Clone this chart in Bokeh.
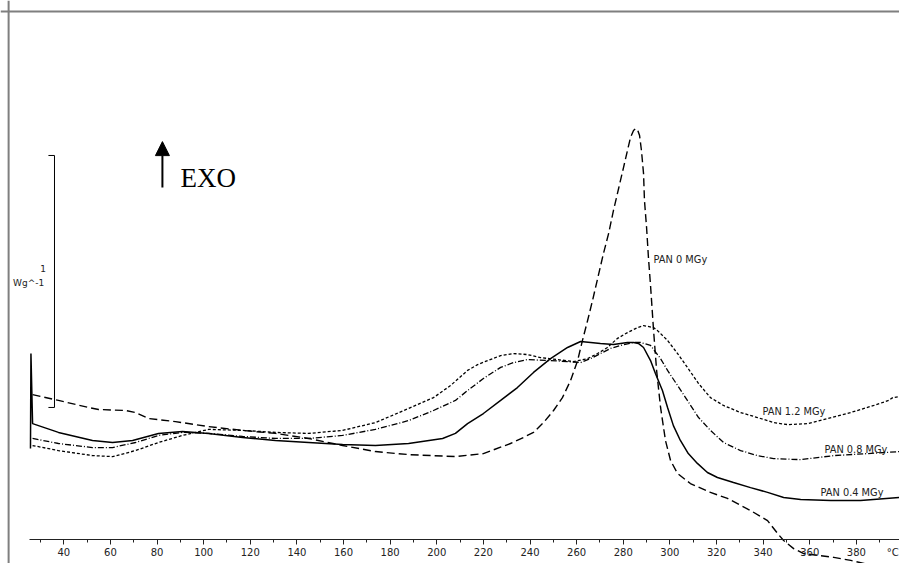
from bokeh.plotting import figure
from bokeh.models import (Range1d, LinearAxis, FixedTicker, Span, Label, Arrow,
                          NormalHead, ColumnDataSource)
from bokeh.core.properties import value
from bokeh.embed import file_html
from bokeh.resources import INLINE

# ---- data (temperature in deg C, heat flow in W/g, arbitrary offset) ----
t_0mgy = [26.6, 37.7, 50.6, 54.9, 66.5, 70.8, 76.3, 87.9, 102.1, 116.7, 130.8, 145.0,
          159.6, 173.7, 187.9, 208.0, 220.0, 231.6, 237.2, 241.5, 245.8, 250.1, 253.9,
          257.4, 260.4, 262.5, 264.7, 266.8, 271.5, 273.7, 275.8, 278.0, 280.1, 281.8,
          283.1, 284.4, 285.3, 286.1, 287.0, 287.8, 288.7, 289.1, 290.0, 290.8, 291.7,
          293.0, 294.3, 296.0, 298.1, 300.3, 303.3, 308.8, 317.4, 324.7, 334.6, 341.9,
          346.2, 348.8, 353.1, 357.4, 363.4, 370.3, 377.6, 383.2, 390.0]
w_0mgy = [0.575, 0.552, 0.524, 0.516, 0.512, 0.504, 0.480, 0.468, 0.448, 0.433, 0.421, 0.401,
          0.373, 0.349, 0.337, 0.329, 0.341, 0.381, 0.405, 0.425, 0.464, 0.512, 0.563,
          0.631, 0.710, 0.790, 0.869, 0.948, 1.135, 1.214, 1.306, 1.393, 1.476, 1.544,
          1.595, 1.623, 1.631, 1.627, 1.603, 1.544, 1.452, 1.345, 1.238, 1.119, 1.008,
          0.829, 0.671, 0.524, 0.393, 0.313, 0.262, 0.222, 0.187, 0.163, 0.115, 0.075,
          0.024, -0.004, -0.036, -0.056, -0.063, -0.071, -0.083, -0.095, -0.110]

t_04mgy = [25.7, 25.9, 26.6, 37.7, 52.3, 60.9, 69.5, 80.6, 90.9, 102.1, 116.7, 130.8,
           145.0, 159.6, 173.7, 187.9, 202.5, 208.0, 213.2, 220.0, 227.4, 234.6, 241.5,
           248.8, 256.1, 261.7, 266.0, 270.2, 275.8, 281.8, 284.4, 286.5, 288.7, 291.7,
           293.8, 296.8, 299.0, 301.5, 304.5, 307.9, 311.8, 316.1, 320.4, 327.3, 334.6,
           341.9, 348.8, 356.1, 369.0, 381.8, 398.7]
w_04mgy = [0.361, 0.738, 0.460, 0.425, 0.393, 0.385, 0.393, 0.421, 0.429, 0.421, 0.405, 0.393,
           0.385, 0.377, 0.373, 0.381, 0.401, 0.421, 0.460, 0.500, 0.552, 0.603, 0.663,
           0.718, 0.762, 0.786, 0.782, 0.778, 0.774, 0.782, 0.782, 0.778, 0.762, 0.710,
           0.659, 0.591, 0.524, 0.452, 0.393, 0.341, 0.302, 0.266, 0.246, 0.226, 0.206,
           0.187, 0.167, 0.159, 0.155, 0.155, 0.167]

t_08mgy = [26.6, 37.7, 52.3, 60.9, 70.8, 80.6, 90.9, 102.1, 116.7, 130.8, 145.0, 159.6,
           173.7, 187.9, 198.6, 208.0, 213.2, 220.0, 227.4, 232.9, 238.9, 248.8, 256.1,
           261.7, 266.0, 270.2, 274.5, 278.8, 284.4, 287.4, 291.7, 296.0, 299.0, 303.3,
           307.5, 312.3, 317.4, 323.0, 330.3, 337.6, 344.5, 356.1, 370.3, 384.9, 398.7]
w_08mgy = [0.401, 0.381, 0.365, 0.365, 0.385, 0.413, 0.425, 0.421, 0.409, 0.401, 0.401, 0.413,
           0.437, 0.472, 0.512, 0.552, 0.591, 0.639, 0.683, 0.702, 0.714, 0.710, 0.706,
           0.702, 0.718, 0.738, 0.758, 0.770, 0.782, 0.782, 0.770, 0.718, 0.671, 0.611,
           0.552, 0.484, 0.433, 0.385, 0.353, 0.333, 0.321, 0.317, 0.333, 0.341, 0.349]

t_12mgy = [26.6, 37.7, 52.3, 60.9, 70.8, 80.6, 90.9, 102.1, 116.7, 130.8, 145.0, 159.6,
           173.7, 187.9, 198.6, 205.9, 213.2, 217.5, 221.8, 227.4, 232.9, 238.9, 244.5,
           251.8, 258.7, 264.7, 269.0, 273.2, 277.5, 281.8, 286.1, 288.7, 293.0, 294.7,
           299.0, 303.3, 307.5, 312.3, 317.4, 323.0, 330.3, 337.6, 344.5, 350.5, 359.1,
           367.7, 377.6, 387.5, 393.9, 395.6, 398.7]
w_12mgy = [0.373, 0.353, 0.333, 0.329, 0.353, 0.385, 0.413, 0.437, 0.433, 0.425, 0.421, 0.433,
           0.464, 0.520, 0.563, 0.611, 0.671, 0.694, 0.710, 0.730, 0.738, 0.734, 0.722,
           0.714, 0.706, 0.718, 0.738, 0.762, 0.798, 0.821, 0.841, 0.849, 0.841, 0.829,
           0.790, 0.738, 0.683, 0.619, 0.563, 0.532, 0.504, 0.484, 0.464, 0.456, 0.460,
           0.480, 0.504, 0.532, 0.552, 0.563, 0.567]

series_names = ["PAN 0 MGy", "PAN 0.4 MGy", "PAN 0.8 MGy", "PAN 1.2 MGy"]
label_t = [293.0, 364.6, 366.3, 339.7]
label_w = [1.111, 0.187, 0.357, 0.508]

major_ticks = [40, 60, 80, 100, 120, 140, 160, 180, 200, 220, 240, 260, 280, 300, 320,
               340, 360, 380]
minor_ticks = [30, 50, 70, 90, 110, 130, 150, 170, 190, 210, 230, 250, 270, 290, 310,
               330, 350, 370, 390]

scale_bar_w = [0.524, 1.524]   # 1 W/g scale bar
scale_bar_t = 36.0

# ---- figure ----
p = figure(width=899, height=563, output_backend="svg", toolbar_location=None,
           x_axis_location=None, y_axis_location=None,
           x_range=Range1d(12.84, 398.5), y_range=Range1d(-0.0952, 2.139),
           min_border=0, min_border_left=0, min_border_right=0,
           min_border_top=0, min_border_bottom=0)
p.outline_line_color = None
p.grid.visible = False
p.background_fill_color = "white"
p.border_fill_color = "white"

xaxis = LinearAxis(fixed_location=0, bounds=(25.3, 400),
                   ticker=FixedTicker(ticks=major_ticks, minor_ticks=minor_ticks))
xaxis.axis_line_color = "#222222"
xaxis.axis_line_width = 1
xaxis.major_tick_in = 0
xaxis.major_tick_out = 5
xaxis.minor_tick_in = 0
xaxis.minor_tick_out = 3
xaxis.major_tick_line_color = "#222222"
xaxis.minor_tick_line_color = "#222222"
xaxis.major_label_standoff = 3
xaxis.major_label_text_font = "DejaVu Sans"
xaxis.major_label_text_font_size = "10px"
xaxis.major_label_text_color = "#222222"
p.add_layout(xaxis, "below")

# frame lines (figure border)
p.add_layout(Span(location=16.32, dimension="height", line_color="#7f7f7f", line_width=2))
p.add_layout(Span(location=2.095, dimension="width", line_color="#7f7f7f", line_width=2))

# curves
p.line(t_0mgy, w_0mgy, line_color="black", line_width=1.4, line_dash="8 4")
p.line(t_04mgy, w_04mgy, line_color="black", line_width=1.5)
p.line(t_08mgy, w_08mgy, line_color="black", line_width=1.3, line_dash="6 2 1 2")
p.line(t_12mgy, w_12mgy, line_color="black", line_width=1.3, line_dash="3 2")

# curve labels
src = ColumnDataSource(dict(x=label_t, y=label_w, text=series_names))
p.text(x="x", y="y", text="text", source=src, text_font=value("DejaVu Sans"),
       text_font_size="9.8px", text_baseline="middle", text_align="left",
       text_color="#222222")

# scale bar
p.line([scale_bar_t, scale_bar_t], scale_bar_w, line_color="black", line_width=1)
p.line([scale_bar_t - 2.6, scale_bar_t], [scale_bar_w[0]] * 2, line_color="black", line_width=1)
p.line([scale_bar_t - 2.6, scale_bar_t], [scale_bar_w[1]] * 2, line_color="black", line_width=1)
p.add_layout(Label(x=32.4, y=1.075, text="1", text_font="DejaVu Sans",
                   text_font_size="9px", text_align="right", text_baseline="middle",
                   text_color="#222222"))
p.add_layout(Label(x=31.6, y=1.016, text="Wg^-1", text_font="DejaVu Sans",
                   text_font_size="9px", text_align="right", text_baseline="middle",
                   text_color="#222222"))

# °C unit at end of axis
p.add_layout(Label(x=393.0, y=-0.05, text="°C", text_font="DejaVu Sans",
                   text_font_size="10px", text_align="left", text_baseline="middle",
                   text_color="#222222"))

# EXO arrow
p.add_layout(Arrow(x_start=82.3, y_start=1.397, x_end=82.3, y_end=1.579,
                   line_color="black", line_width=2,
                   end=NormalHead(size=14, fill_color="black", line_color="black")))
p.add_layout(Label(x=90.1, y=1.433, text="EXO", text_font="Liberation Serif",
                   text_font_size="27px", text_align="left", text_baseline="alphabetic",
                   text_color="black"))

open("out.html", "w").write(file_html(p, INLINE))
